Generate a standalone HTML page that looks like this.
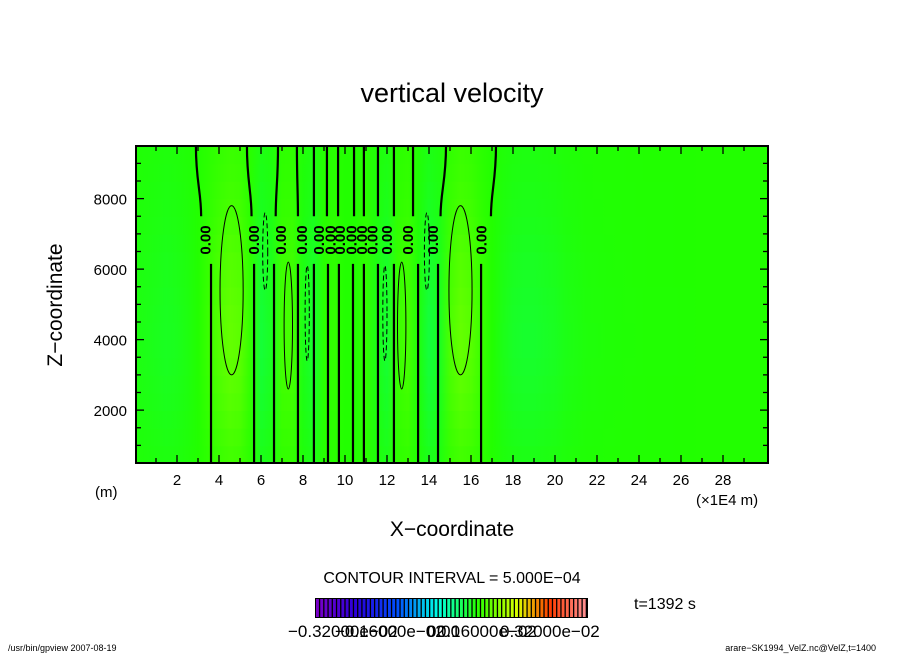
<!DOCTYPE html>
<html><head><meta charset="utf-8"><style>
html,body{margin:0;padding:0;background:#fff;}
svg{display:block;font-family:"Liberation Sans","DejaVu Sans",sans-serif;}
</style></head><body>
<svg id="chart" width="904" height="654" viewBox="0 0 904 654">
<defs id="defs"></defs>
<text x="452" y="102" font-size="27" text-anchor="middle">vertical velocity</text>
<g id="field"></g>
<g id="contours"></g>
<g id="axes"></g>
<text x="62" y="305" font-size="21" text-anchor="middle" transform="rotate(-90 62 305)">Z−coordinate</text>
<text x="452" y="536" font-size="21" text-anchor="middle">X−coordinate</text>
<text x="95" y="497" font-size="15">(m)</text>
<text x="696" y="505" font-size="15">(×1E4 m)</text>
<text x="452" y="583" font-size="16" text-anchor="middle">CONTOUR INTERVAL = 5.000E−04</text>
<g id="cbar"></g>
<text x="634" y="609" font-size="16">t=1392 s</text>
<g font-size="17">
<text x="288" y="637">−0.32000e−02</text>
<text x="335" y="637">−0.16000e−02</text>
<text x="427" y="637">0.00</text>
<text x="437" y="637">0.16000e−02</text>
<text x="500" y="637">0.32000e−02</text>
</g>
<text x="8" y="651" font-size="9">/usr/bin/gpview   2007-08-19</text>
<text x="876" y="651" font-size="9" text-anchor="end">arare−SK1994_VelZ.nc@VelZ,t=1400</text>
</svg>
<script>
const NS="http://www.w3.org/2000/svg";
// data
const xSamples=[0,0.5,1,1.5,2,2.5,3,3.5,4,4.5,5,5.5,6,6.5,7,7.5,8,8.5,9,9.5,10,10.5,11,11.5,12,12.5,13,13.5,14,14.5,15,15.5,16,16.5,17,17.5,18,18.5,19,19.5,20,20.5,21,21.5,22,22.5,23,23.5,24,24.5,25,25.5,26,26.5,27,27.5,28,28.5,29,29.5,30];
const wValues=[-0.15,-0.2,-0.25,-0.3,-0.25,-0.15,0,0.3,0.6,0.8,0.7,0.2,-0.5,-0.3,0.4,0.45,-0.2,-0.45,0.1,0.2,0,0,0.2,-0.2,-0.45,0.3,0.45,-0.1,-0.55,-0.3,0.5,0.8,0.65,0.3,0,-0.2,-0.35,-0.4,-0.4,-0.35,-0.3,-0.2,-0.15,-0.1,-0.08,-0.06,-0.05,-0.04,-0.03,-0.02,-0.02,-0.02,-0.01,-0.01,0,0,0,0,0,0,0];
const zSamples=[500,1000,1500,2000,2500,3000,3500,4000,4500,5000,5500,6000,6500,7000,7500,8000,8500,9000,9500];
const zProfile=[0.4,0.5,0.6,0.7,0.8,0.88,0.95,1,1,0.97,0.92,0.85,0.78,0.7,0.62,0.55,0.48,0.42,0.38];
const bottomLines=[3.62,5.67,6.62,7.76,8.52,9.19,9.71,10.38,10.9,11.57,12.33,13.48,14.43,16.48];
const topLines=[2.9,5.33,6.81,7.71,8.52,9.14,9.67,10.43,10.9,11.57,12.33,13.24,14.81,17.19];
const topLineBase=[3.15,5.55,6.7,7.76,8.52,9.14,9.67,10.43,10.9,11.57,12.33,13.24,14.55,16.95];
const posEllipses=[[4.6,3000,7800,0.55],[7.3,2600,6200,0.2],[12.7,2600,6200,0.2],[15.5,3000,7800,0.55]];
const negEllipses=[[6.2,5400,7600,0.12],[8.2,3400,6100,0.1],[11.9,3400,6100,0.1],[13.9,5400,7600,0.12]];
const labelCols=[3.35,5.67,6.95,7.95,8.75,9.3,9.75,10.3,10.8,11.3,12.0,13.0,14.2,16.5];
const xTicks=[2,4,6,8,10,12,14,16,18,20,22,24,26,28];
const yTicks=[2000,4000,6000,8000];
// axes functions
const X0=136,X1=768,Y0=463,Y1=146;
const sx=v=>135+21*v;
const sy=v=>Y0-(v-500)/2000*70.5;
function el(t,a,p){const e=document.createElementNS(NS,t);for(const k in a)e.setAttribute(k,a[k]);p.appendChild(e);return e;}
function col(w){
 const t=Math.max(-1,Math.min(1,w*0.75));
 let r,g,b;
 if(t>=0){r=34+t*110;g=255;b=0;} else {r=34*(1+t);g=255;b=-t*150;}
 return `rgb(${r|0},${g|0},${b|0})`;
}
const F=document.getElementById('field');
const D=document.getElementById('defs');
el('rect',{x:X0,y:Y1,width:X1-X0,height:Y0-Y1,fill:'#22ff00'},F);
const xmin=sx(xSamples[0]),xmax=sx(xSamples[xSamples.length-1]);
for(let j=0;j<zSamples.length;j++){
 const g=el('linearGradient',{id:'row'+j,gradientUnits:'userSpaceOnUse',x1:xmin,x2:xmax,y1:0,y2:0},D);
 for(let i=0;i<xSamples.length;i++){
  el('stop',{offset:(sx(xSamples[i])-xmin)/(xmax-xmin),'stop-color':col(wValues[i]*zProfile[j])},g);
 }
 const r=el('rect',{x:X0,y:sy(zSamples[j])-18,width:X1-X0,height:36.5,fill:`url(#row${j})`},F);
 
 
}
el('rect',{x:0,y:0,width:X0,height:654,fill:'#fff'},F);
el('rect',{x:X1,y:0,width:136,height:654,fill:'#fff'},F);
el('rect',{x:X0,y:Y0,width:X1-X0,height:191,fill:'#fff'},F);
el('rect',{x:X0,y:110,width:X1-X0,height:Y1-110,fill:'#fff'},F);
const C=document.getElementById('contours');
bottomLines.forEach(v=>{
 const l=el('line',{x1:sx(v),x2:sx(v),y1:sy(6150),y2:Y0,stroke:'#000','stroke-width':2.2},C);
 
 
});
topLines.forEach((v,i)=>{
 const p=el('path',{d:`M${sx(v)},${Y1} C${sx(v)},${sy(8500)} ${sx(topLineBase[i])},${sy(8200)} ${sx(topLineBase[i])},${sy(7500)}`,fill:'none',stroke:'#000','stroke-width':2.2},C);
 
 
});
posEllipses.forEach(e=>{
 const c=el('ellipse',{cx:sx(e[0]),cy:(sy(e[1])+sy(e[2]))/2,rx:21*e[3],ry:(sy(e[1])-sy(e[2]))/2,fill:'none',stroke:'#000','stroke-width':1},C);
 
 
});
negEllipses.forEach(e=>{
 const c=el('ellipse',{cx:sx(e[0]),cy:(sy(e[1])+sy(e[2]))/2,rx:21*e[3],ry:(sy(e[1])-sy(e[2]))/2,fill:'none',stroke:'#000','stroke-width':1,'stroke-dasharray':'5,3'},C);
 
 
});
labelCols.forEach(v=>{
 const x=sx(v)+5,y=240;
 const t=el('text',{x:x,y:y,'font-size':15,'font-weight':'bold','text-anchor':'middle',transform:`rotate(-90 ${x} ${y})`},C);
 t.textContent='0.00';
 
 
});
const A=document.getElementById('axes');
el('rect',{x:X0,y:Y1,width:X1-X0,height:Y0-Y1,fill:'none',stroke:'#000','stroke-width':2},A);
for(let v=1;v<30;v++){
 const L=v%2===0?8:5;
 el('line',{x1:sx(v),x2:sx(v),y1:Y0,y2:Y0-L,stroke:'#000','stroke-width':1.3},A);
 el('line',{x1:sx(v),x2:sx(v),y1:Y1,y2:Y1+L,stroke:'#000','stroke-width':1.3},A);
}
for(let v=1000;v<=9000;v+=500){
 const L=v%2000===0?8:5;
 el('line',{x1:X0,x2:X0+L,y1:sy(v),y2:sy(v),stroke:'#000','stroke-width':1.3},A);
 el('line',{x1:X1,x2:X1-L,y1:sy(v),y2:sy(v),stroke:'#000','stroke-width':1.3},A);
}
xTicks.forEach(v=>{
 const t=el('text',{x:sx(v),y:485,'font-size':15,'text-anchor':'middle'},A);
 t.textContent=v;
 
 
});
yTicks.forEach(v=>{
 const t=el('text',{x:127,y:sy(v)+6,'font-size':15,'text-anchor':'end'},A);
 t.textContent=v;
 
 
});
const CB=document.getElementById('cbar');
const stops=[[0,[120,0,200]],[0.15,[40,0,220]],[0.3,[0,80,255]],[0.45,[0,255,230]],[0.6,[40,255,0]],[0.75,[220,255,0]],[0.87,[255,60,0]],[1,[255,140,140]]];
function cmap(t){for(let i=1;i<stops.length;i++){if(t<=stops[i][0]){const a=stops[i-1],b=stops[i],f=(t-a[0])/(b[0]-a[0]);return `rgb(${a[1].map((c,k)=>Math.round(c+(b[1][k]-c)*f)).join(',')})`;}}return 'rgb(255,140,140)';}
const n=64,bx=315,bw=273;
el('rect',{x:bx,y:598,width:bw,height:20,fill:'#000'},CB);
for(let i=0;i<n;i++){
 el('rect',{x:bx+1+i*(bw-2)/n,y:599,width:(bw-2)/n-1.3,height:18,fill:cmap(i/(n-1))},CB);
}
</script>
</body></html>
